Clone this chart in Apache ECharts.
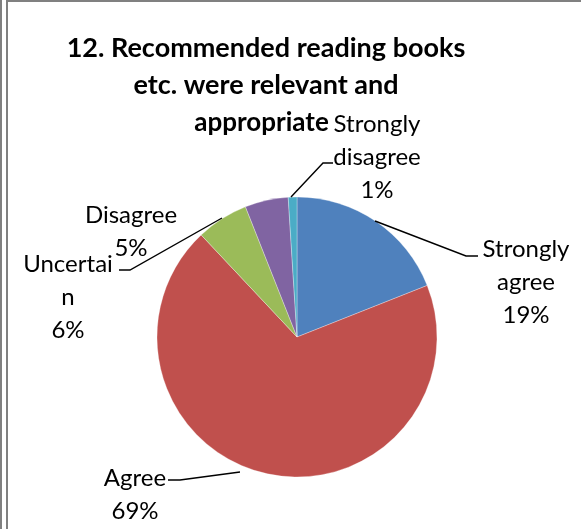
<!DOCTYPE html>
<html>
<head>
<meta charset="utf-8">
<script src="https://cdn.jsdelivr.net/npm/echarts@6/dist/echarts.min.js"></script>
<style>
html,body{margin:0;padding:0;background:#fff;}
#c{width:581px;height:529px;}
</style>
</head>
<body>
<div id="c"></div>
<script>
var titleLines = ['12. Recommended reading books', 'etc. were relevant and', 'appropriate'];
var categories = ['Strongly agree', 'Agree', 'Uncertain', 'Disagree', 'Strongly disagree'];
var labelTexts = ['Strongly\nagree', 'Agree', 'Uncertai\nn', 'Disagree', 'Strongly\ndisagree'];
var values = [19, 69, 6, 5, 1];
var colors = ['#4F81BD', '#C0504D', '#9BBB59', '#8064A2', '#4BACC6'];

// label placement and leader lines (annotation layout only)
var labelPos = {
  'Strongly agree': {x: 526, y: 282, line: [[375, 221], [466, 256], [478, 256]]},
  'Agree': {x: 135, y: 495, line: [[240, 472], [180, 480], [168, 480]]},
  'Uncertain': {x: 68, y: 297, line: [[222, 218], [130, 270], [119, 270]]},
  'Disagree': {x: 131, y: 232, line: null},
  'Strongly disagree': {x: 377, y: 157, line: [[291, 197], [323, 163], [333, 163]]}
};

var chart = echarts.init(document.getElementById('c'), null, {renderer: 'canvas'});
var FONT = 'Lato, "Open Sans", sans-serif';

var data = categories.map(function (c, i) {
  return {name: c, value: values[i], itemStyle: {color: colors[i]}};
});

var graphics = [
  {type: 'rect', shape: {x: 0, y: 0, width: 2, height: 529}, style: {fill: '#808080'}},
  {type: 'rect', shape: {x: 6, y: 0, width: 2, height: 529}, style: {fill: '#808080'}},
  {type: 'rect', shape: {x: 6, y: 0, width: 575, height: 2}, style: {fill: '#808080'}}
];
categories.forEach(function (c) {
  var lp = labelPos[c];
  if (lp.line) {
    graphics.push({
      type: 'polyline', z: 100, silent: true,
      shape: {points: lp.line},
      style: {stroke: '#000', lineWidth: 1.4, fill: null}
    });
  }
});

chart.setOption({
  animation: false,
  backgroundColor: '#fff',
  title: {
    text: titleLines[0] + '\n' + titleLines[1] + '\n{l3|' + titleLines[2] + '}',
    left: 261,
    top: 25,
    textAlign: 'center',
    textStyle: {
      fontFamily: FONT, fontWeight: 'bold', fontSize: 27, lineHeight: 37, color: '#000',
      rich: {
        l3: {fontFamily: FONT, fontWeight: 'bold', fontSize: 26, lineHeight: 37, color: '#000', padding: [0, 9, 0, 0]}
      }
    }
  },
  graphic: graphics,
  series: [{
    type: 'pie',
    center: [297, 337],
    radius: [0, 140],
    startAngle: 90,
    clockwise: true,
    avoidLabelOverlap: false,
    data: data,
    itemStyle: {borderColor: 'rgba(255,255,255,0.6)', borderWidth: 0.5},
    emphasis: {disabled: true},
    label: {
      show: true,
      position: 'outside',
      formatter: function (p) {
        return labelTexts[p.dataIndex] + '\n' + p.value + '%';
      },
      fontFamily: FONT,
      fontSize: 24,
      lineHeight: 33,
      color: '#000',
      align: 'center'
    },
    labelLine: {show: false},
    labelLayout: function (params) {
      var lp = labelPos[categories[params.dataIndex]];
      return {x: lp.x, y: lp.y, align: 'center', verticalAlign: 'middle'};
    }
  }]
});
</script>
</body>
</html>
